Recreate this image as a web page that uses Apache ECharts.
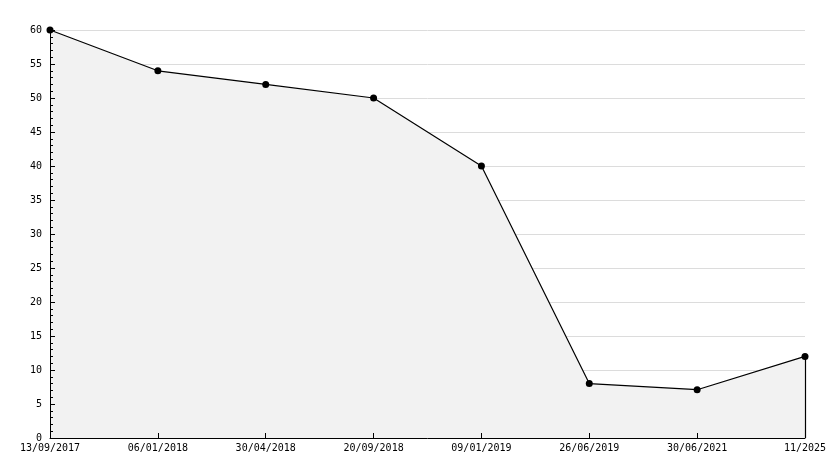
<!DOCTYPE html>
<html>
<head>
<meta charset="utf-8">
<script src="https://cdn.jsdelivr.net/npm/echarts@6/dist/echarts.min.js"></script>
<style>
  html, body { margin: 0; padding: 0; background: #fff; }
  #chart { width: 834px; height: 468px; }
</style>
</head>
<body>
<div id="chart"></div>
<script>
const categories = ['13/09/2017', '06/01/2018', '30/04/2018', '20/09/2018', '09/01/2019', '26/06/2019', '30/06/2021', '11/2025']
const values = [60, 54, 52, 50, 40, 8, 7.1, 12]
const lastCat = categories[categories.length - 1]
const lastVal = values[values.length - 1]

const font = 'DejaVu Sans Mono'

const chart = echarts.init(document.getElementById('chart'))
chart.setOption({
  animation: false,
  grid: { left: 50, right: 29, top: 30, bottom: 30 },
  xAxis: [
    {
      // grid only, below the area
      type: 'category',
      data: categories,
      boundaryGap: false,
      axisLine: { show: false },
      axisTick: { show: false },
      axisLabel: { show: false },
      splitLine: { show: false }
    },
    {
      // drawn above the area
      type: 'category',
      data: categories,
      position: 'bottom',
      boundaryGap: false,
      z: 5,
      axisLine: { onZero: false, lineStyle: { color: '#000', width: 1 } },
      axisTick: { inside: true, length: 5, lineStyle: { color: '#000' } },
      axisLabel: { color: '#000', fontFamily: font, fontSize: 10, margin: 5, interval: 0 },
      splitLine: { show: false }
    }
  ],
  yAxis: [
    {
      type: 'value',
      min: 0,
      max: 60,
      interval: 5,
      axisLine: { show: false },
      axisTick: { show: false },
      axisLabel: { show: false },
      splitLine: { lineStyle: { color: '#dcdcdc', width: 1 } }
    },
    {
      type: 'value',
      min: 0,
      max: 60,
      interval: 5,
      position: 'left',
      z: 5,
      axisLine: { show: true, onZero: false, lineStyle: { color: '#000', width: 1 } },
      axisTick: { show: true, inside: true, length: 5, lineStyle: { color: '#000' } },
      minorTick: { show: true, splitNumber: 5, length: 3, lineStyle: { color: '#000' } },
      axisLabel: { color: '#000', fontFamily: font, fontSize: 10, margin: 8 },
      splitLine: { show: false }
    }
  ],
  series: [
    {
      type: 'line',
      xAxisIndex: 0,
      yAxisIndex: 0,
      data: values,
      symbol: 'circle',
      symbolSize: 7,
      itemStyle: { color: '#000' },
      lineStyle: { color: '#000', width: 1.2 },
      areaStyle: { color: '#f2f2f2', opacity: 1 },
      markLine: {
        silent: true,
        symbol: 'none',
        label: { show: false },
        lineStyle: { color: '#000', width: 1.2, type: 'solid' },
        data: [[{ coord: [lastCat, lastVal] }, { coord: [lastCat, 0] }]]
      }
    }
  ]
})
</script>
</body>
</html>
